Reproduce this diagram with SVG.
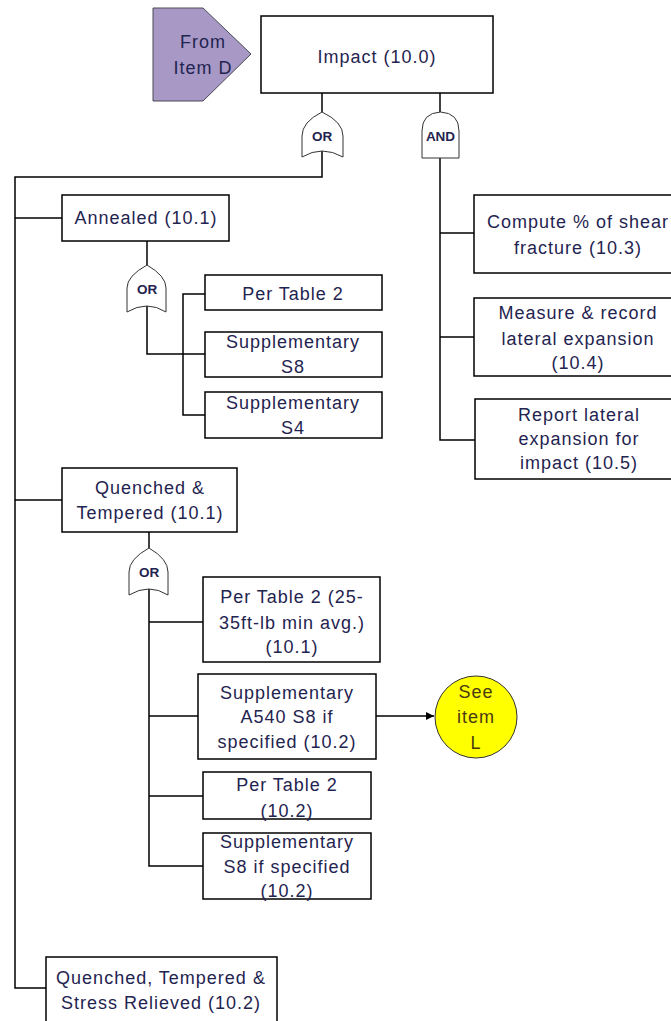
<svg xmlns="http://www.w3.org/2000/svg" width="671" height="1021" viewBox="0 0 671 1021">
  <defs>
    <style>
      .box { fill: #ffffff; stroke: #000000; stroke-width: 1.5; }
      .gate { fill: #ffffff; stroke: #333333; stroke-width: 1; }
      .wire { fill: none; stroke: #000000; stroke-width: 1.5; }
      .lbl { font-family: "Liberation Sans", Arial, sans-serif; font-size: 18px; letter-spacing: 1px; fill: #1f2450; text-anchor: middle; dominant-baseline: central; }
      .glbl { font-family: "Liberation Sans", Arial, sans-serif; font-size: 13.5px; font-weight: bold; fill: #1f2450; text-anchor: middle; dominant-baseline: central; }
    </style>
    <marker id="arrow" viewBox="0 0 10 10" refX="10" refY="5" markerWidth="8" markerHeight="8" orient="auto" markerUnits="userSpaceOnUse">
      <path d="M0,0 L10,5 L0,10 Z" fill="#000000"/>
    </marker>
  </defs>
  <rect width="671" height="1021" fill="#ffffff"/>

  <!-- connectors -->
  <g id="connectors">
    <!-- top event to gates -->
    <path class="wire" d="M322,93 V112"/>
    <path class="wire" d="M440,93 V112"/>
    <!-- OR gate trunk on the left -->
    <path class="wire" d="M322,151 V177 H15 V988 H46"/>
    <path class="wire" d="M15,218 H62"/>
    <path class="wire" d="M15,500 H62"/>
    <!-- AND gate branch on the right -->
    <path class="wire" d="M440,158 V440 H475"/>
    <path class="wire" d="M440,233 H474"/>
    <path class="wire" d="M440,337 H474"/>
    <!-- annealed branch -->
    <path class="wire" d="M147,241 V265"/>
    <path class="wire" d="M147,306 V354 H205"/>
    <path class="wire" d="M205,294 H183 V415 H205"/>
    <!-- quenched & tempered branch -->
    <path class="wire" d="M149,532 V548"/>
    <path class="wire" d="M149,589 V866 H203"/>
    <path class="wire" d="M149,622 H203"/>
    <path class="wire" d="M149,716 H198"/>
    <path class="wire" d="M149,796 H203"/>
    <path class="wire" d="M376,716 H434" marker-end="url(#arrow)"/>
  </g>

  <!-- transfer-in -->
  <g id="from-item-d">
    <path d="M153,8 H203 L251,54 L203,101 H153 Z" fill="#a898c6" stroke="#4a4a55" stroke-width="1"/>
    <text class="lbl" x="203" y="42" font-size="17">From</text>
    <text class="lbl" x="203" y="68" font-size="17">Item D</text>
  </g>

  <g id="impact">
    <rect class="box" x="261" y="16" width="232" height="77"/>
    <text class="lbl" x="377" y="57">Impact (10.0)</text>
  </g>

  <g id="gate-or-top">
    <path class="gate" d="M302,157 V136 Q302,122 322,112 Q343,122 343,136 V157 Q322,145 302,157 Z"/>
    <text class="glbl" x="322" y="136">OR</text>
  </g>

  <g id="gate-and-top">
    <path class="gate" d="M422,158 V131 Q422,113 440.5,112 Q459,113 459,131 V158 Z"/>
    <text class="glbl" x="440.5" y="136">AND</text>
  </g>

  <g id="annealed">
    <rect class="box" x="62" y="195" width="167" height="46"/>
    <text class="lbl" x="146" y="218">Annealed (10.1)</text>
  </g>

  <g id="gate-or-annealed">
    <path class="gate" d="M127,312 V288 Q127,276 147,265 Q166,276 166,288 V312 Q147,300 127,312 Z"/>
    <text class="glbl" x="147" y="289">OR</text>
  </g>

  <g id="annealed-table2">
    <rect class="box" x="205" y="275" width="177" height="35"/>
    <text class="lbl" x="293" y="294">Per Table 2</text>
  </g>

  <g id="annealed-s8">
    <rect class="box" x="205" y="332" width="177" height="45"/>
    <text class="lbl" x="293" y="342">Supplementary</text>
    <text class="lbl" x="293" y="367">S8</text>
  </g>

  <g id="annealed-s4">
    <rect class="box" x="205" y="392" width="177" height="46"/>
    <text class="lbl" x="293" y="403">Supplementary</text>
    <text class="lbl" x="293" y="428">S4</text>
  </g>

  <g id="shear-fracture">
    <rect class="box" x="474" y="195" width="210" height="78"/>
    <text class="lbl" x="578" y="222">Compute % of shear</text>
    <text class="lbl" x="578" y="248">fracture (10.3)</text>
  </g>

  <g id="lateral-expansion">
    <rect class="box" x="474" y="298" width="210" height="78"/>
    <text class="lbl" x="578" y="313">Measure &amp; record</text>
    <text class="lbl" x="578" y="339">lateral expansion</text>
    <text class="lbl" x="578" y="363">(10.4)</text>
  </g>

  <g id="report-expansion">
    <rect class="box" x="475" y="399" width="210" height="80"/>
    <text class="lbl" x="579" y="415">Report lateral</text>
    <text class="lbl" x="579" y="439">expansion for</text>
    <text class="lbl" x="579" y="463">impact (10.5)</text>
  </g>

  <g id="quenched-tempered">
    <rect class="box" x="62" y="468" width="175" height="64"/>
    <text class="lbl" x="150" y="488">Quenched &amp;</text>
    <text class="lbl" x="150" y="513">Tempered (10.1)</text>
  </g>

  <g id="gate-or-qt">
    <path class="gate" d="M129,595 V572 Q129,559 149,548 Q168,559 168,572 V595 Q149,583 129,595 Z"/>
    <text class="glbl" x="149" y="572">OR</text>
  </g>

  <g id="qt-table2-avg">
    <rect class="box" x="203" y="577" width="177" height="85"/>
    <text class="lbl" x="292" y="597">Per Table 2 (25-</text>
    <text class="lbl" x="292" y="623">35ft-lb min avg.)</text>
    <text class="lbl" x="292" y="647">(10.1)</text>
  </g>

  <g id="qt-a540-s8">
    <rect class="box" x="198" y="674" width="178" height="85"/>
    <text class="lbl" x="287" y="693">Supplementary</text>
    <text class="lbl" x="287" y="717">A540 S8 if</text>
    <text class="lbl" x="287" y="742">specified (10.2)</text>
  </g>

  <g id="see-item-l">
    <circle cx="476" cy="717" r="41" fill="#ffff00" stroke="#333333" stroke-width="1"/>
    <text class="lbl" x="476" y="692" style="fill:#4a3a10">See</text>
    <text class="lbl" x="476" y="717" style="fill:#4a3a10">item</text>
    <text class="lbl" x="476" y="743" style="fill:#4a3a10">L</text>
  </g>

  <g id="qt-table2">
    <rect class="box" x="203" y="772" width="168" height="47"/>
    <text class="lbl" x="287" y="785">Per Table 2</text>
    <text class="lbl" x="287" y="811">(10.2)</text>
  </g>

  <g id="qt-s8">
    <rect class="box" x="203" y="833" width="168" height="66"/>
    <text class="lbl" x="287" y="842">Supplementary</text>
    <text class="lbl" x="287" y="867">S8 if specified</text>
    <text class="lbl" x="287" y="891">(10.2)</text>
  </g>

  <g id="qt-stress-relieved">
    <rect class="box" x="46" y="957" width="231" height="80"/>
    <text class="lbl" x="161" y="978">Quenched, Tempered &amp;</text>
    <text class="lbl" x="161" y="1003">Stress Relieved (10.2)</text>
  </g>
</svg>
